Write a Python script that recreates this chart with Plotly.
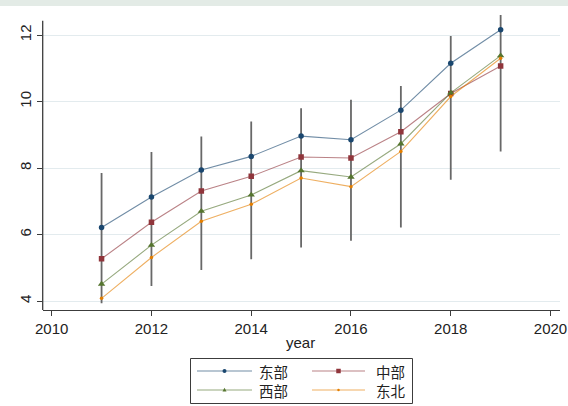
import plotly.graph_objects as go

# ---- data -------------------------------------------------------------
years = [2011, 2012, 2013, 2014, 2015, 2016, 2017, 2018, 2019]
east = [6.21, 7.13, 7.94, 8.35, 8.96, 8.85, 9.74, 11.15, 12.16]
central = [5.27, 6.37, 7.31, 7.75, 8.33, 8.30, 9.09, 10.24, 11.07]
west = [4.51, 5.68, 6.70, 7.19, 7.92, 7.73, 8.73, 10.26, 11.38]
northeast = [4.08, 5.31, 6.40, 6.91, 7.70, 7.44, 8.50, 10.15, 11.30]
range_upper = [7.85, 8.48, 8.95, 9.40, 9.80, 10.05, 10.47, 11.97, 12.60]
range_lower = [3.93, 4.45, 4.93, 5.26, 5.61, 5.81, 6.21, 7.65, 8.50]

series_names = ["东部", "中部", "西部", "东北"]
y_ticks = [4, 6, 8, 10, 12]
x_ticks = [2010, 2012, 2014, 2016, 2018, 2020]
x_title = "year"

# ---- styling ----------------------------------------------------------
W, H = 568, 406
FONT = "Liberation Sans, Arial, Noto Sans CJK SC, sans-serif"
AXIS_COLOR = "#3c3c3c"
GRID_COLOR = "#e3ebee"
SPIKE_COLOR = "#686868"
TICK_SIZE = 15

styles = [
    dict(rgb=(26, 71, 111), symbol="circle", size=5.5, leg=4),
    dict(rgb=(144, 53, 59), symbol="square", size=5.5, leg=4.5),
    dict(rgb=(85, 117, 47), symbol="triangle-up", size=6.5, leg=4),
    dict(rgb=(227, 126, 0), symbol="circle", size=3.5, leg=2.5),
]


def solid(rgb):
    return "rgb(%d,%d,%d)" % rgb


def faded(rgb, a=0.62):
    return "rgba(%d,%d,%d,%.2f)" % (rgb + (a,))


def px_x(p):
    return p / W


def px_y(p):
    return 1 - p / H


# plot area (pixels)
plot_left, plot_right = 42.7, 560.0
plot_bottom, plot_top = 310.0, 14.4
y_range = [3.73, 12.62]
y_line_top = 12.43
x_range = [2009.82, 2020.19]

fig = go.Figure()

# vertical range spikes (min / max per year)
spike_x, spike_y = [], []
for yr, lo, hi in zip(years, range_lower, range_upper):
    spike_x += [yr, yr, None]
    spike_y += [lo, hi, None]
fig.add_trace(go.Scatter(
    x=spike_x, y=spike_y, mode="lines",
    line=dict(color=SPIKE_COLOR, width=1.8),
    hoverinfo="skip", showlegend=False,
))

for name, vals, st in zip(series_names, [east, central, west, northeast], styles):
    fig.add_trace(go.Scatter(
        x=years, y=vals, mode="lines+markers", name=name,
        line=dict(color=faded(st["rgb"]), width=1.1),
        marker=dict(symbol=st["symbol"], size=st["size"],
                    color=solid(st["rgb"]), line=dict(width=0)),
        showlegend=False,
    ))

shapes = []
annotations = []

# light band at the very top of the page
shapes.append(dict(type="rect", xref="paper", yref="paper",
                   x0=0, x1=1, y0=px_y(6), y1=1,
                   fillcolor="#e3ebe6", line=dict(width=0), layer="below"))

# left axis line (stops below the top of the plotting region)
shapes.append(dict(type="line", xref="x domain", yref="y",
                   x0=0, x1=0, y0=y_range[0], y1=y_line_top,
                   line=dict(color=AXIS_COLOR, width=1.3)))

# x axis title
annotations.append(dict(text=x_title, xref="paper", yref="paper",
                        x=px_x(300), y=px_y(342), showarrow=False,
                        xanchor="center", yanchor="middle",
                        font=dict(family=FONT, size=TICK_SIZE, color="#222")))

# legend box
lg_left, lg_right, lg_top, lg_bottom = 190.5, 412.5, 358.5, 403.5
shapes.append(dict(type="rect", xref="paper", yref="paper",
                   x0=px_x(lg_left), x1=px_x(lg_right),
                   y0=px_y(lg_bottom), y1=px_y(lg_top),
                   fillcolor="white", line=dict(color=AXIS_COLOR, width=1)))

col_lines = [(197, 252), (312, 365)]
col_text = [257, 374]
row_line_y = [371, 390]
row_text_y = [372.5, 391.5]

for i, (name, st) in enumerate(zip(series_names, styles)):
    r, c = divmod(i, 2)
    x0, x1 = col_lines[c]
    ly = row_line_y[r]
    shapes.append(dict(type="line", xref="paper", yref="paper",
                       x0=px_x(x0), x1=px_x(x1), y0=px_y(ly), y1=px_y(ly),
                       line=dict(color=faded(st["rgb"]), width=1.1)))
    cx = (x0 + x1) / 2
    s = st["leg"] / 2
    if st["symbol"] == "square":
        shapes.append(dict(type="rect", xref="paper", yref="paper",
                           x0=px_x(cx - s), x1=px_x(cx + s),
                           y0=px_y(ly + s), y1=px_y(ly - s),
                           fillcolor=solid(st["rgb"]), line=dict(width=0)))
    elif st["symbol"] == "triangle-up":
        path = "M %f %f L %f %f L %f %f Z" % (
            px_x(cx - s), px_y(ly + s * 0.8),
            px_x(cx + s), px_y(ly + s * 0.8),
            px_x(cx), px_y(ly - s * 1.1))
        shapes.append(dict(type="path", xref="paper", yref="paper", path=path,
                           fillcolor=solid(st["rgb"]), line=dict(width=0)))
    else:
        shapes.append(dict(type="circle", xref="paper", yref="paper",
                           x0=px_x(cx - s), x1=px_x(cx + s),
                           y0=px_y(ly + s), y1=px_y(ly - s),
                           fillcolor=solid(st["rgb"]), line=dict(width=0)))
    annotations.append(dict(text=name, xref="paper", yref="paper",
                            x=px_x(col_text[c]), y=px_y(row_text_y[r]),
                            showarrow=False, xanchor="left", yanchor="middle",
                            font=dict(family=FONT, size=14.5, color="#222")))

fig.update_layout(
    width=W, height=H,
    margin=dict(l=0, r=0, t=0, b=0),
    paper_bgcolor="white", plot_bgcolor="white",
    font=dict(family=FONT, size=TICK_SIZE, color="#222"),
    showlegend=False,
    shapes=shapes, annotations=annotations,
    xaxis=dict(
        domain=[px_x(plot_left), px_x(plot_right)],
        range=x_range, tickvals=x_ticks,
        ticks="outside", ticklen=5, tickwidth=1.2, tickcolor=AXIS_COLOR,
        showline=True, linecolor=AXIS_COLOR, linewidth=1.3,
        showgrid=False, zeroline=False, automargin=False,
        tickfont=dict(family=FONT, size=TICK_SIZE, color="#222"),
    ),
    yaxis=dict(
        domain=[px_y(plot_bottom), px_y(plot_top)],
        range=y_range, tickvals=y_ticks, tickangle=-90,
        ticks="outside", ticklen=5, tickwidth=1.2, tickcolor=AXIS_COLOR,
        showline=False, showgrid=True, gridcolor=GRID_COLOR, gridwidth=1,
        zeroline=False, automargin=False,
        tickfont=dict(family=FONT, size=TICK_SIZE, color="#222"),
    ),
)

fig.write_html("out.html")
